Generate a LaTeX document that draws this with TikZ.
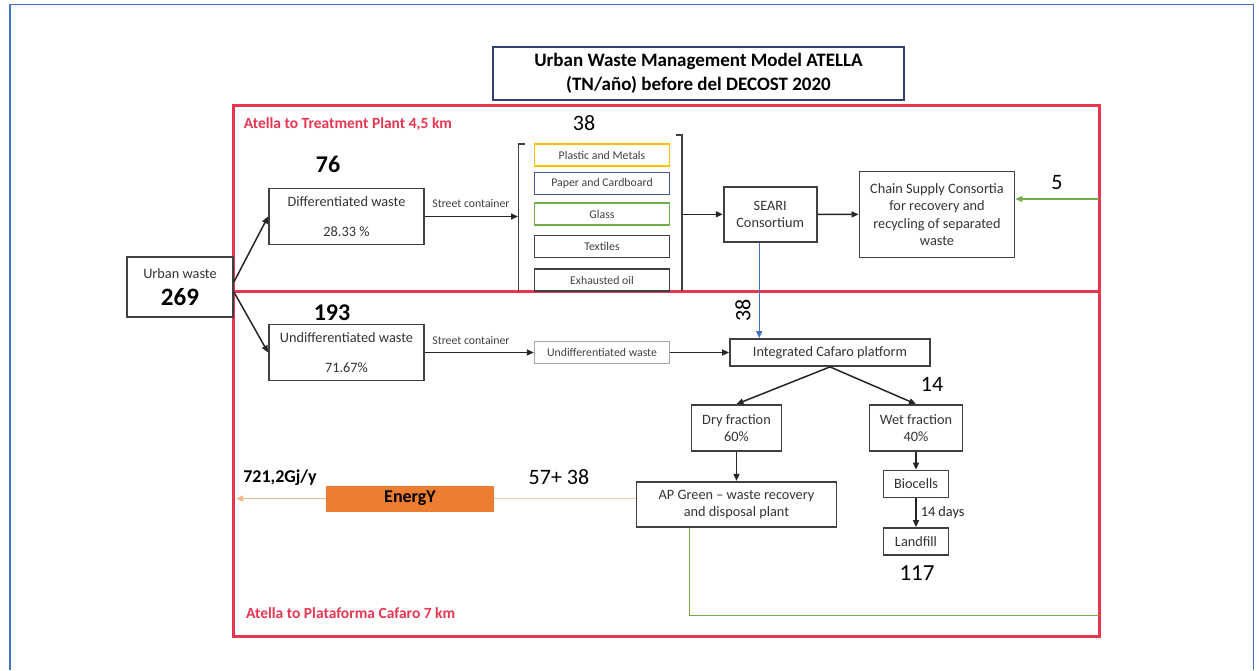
\documentclass[tikz,border=0pt]{standalone}
\usepackage{fontspec}
\setmainfont{Carlito}
\usetikzlibrary{arrows.meta}
\definecolor{framered}{RGB}{232,54,82}
\definecolor{frameblue}{RGB}{68,114,196}
\definecolor{titleblue}{RGB}{47,64,110}
\definecolor{boxgrey}{RGB}{64,64,64}
\definecolor{plastic}{RGB}{255,192,0}
\definecolor{paper}{RGB}{68,84,150}
\definecolor{glass}{RGB}{112,173,71}
\definecolor{lightgrey}{RGB}{166,166,166}
\definecolor{energy}{RGB}{237,125,49}
\newcommand{\fsz}[2]{\fontsize{#1}{#2}\selectfont}
\tikzset{box/.style={draw=boxgrey, line width=1.8pt, text=black!80, align=center, font=\fsz{14.3}{17.5}, inner sep=1pt},
  bin/.style={draw, line width=1.8pt, text=black!75, minimum width=135pt, minimum height=22pt, inner sep=0pt, font=\fsz{11.8}{14}},
  num/.style={font=\fsz{22}{26}, inner sep=0pt},
  bnum/.style={font=\fsz{24}{28}\bfseries, inner sep=0pt},
  redlbl/.style={text=framered, font=\fsz{15.5}{18}\bfseries, anchor=west, inner sep=0pt},
  lbl/.style={font=\fsz{11.8}{14}, text=black!75, inner sep=0pt},
  arr/.style={-{Triangle[length=7pt,width=6pt]}, line width=1.5pt, black!85}}

\begin{document}
\begin{tikzpicture}[x=1pt,y=-1pt]
  \useasboundingbox (0,0) rectangle (1259,670);
  \draw[frameblue, line width=1.2pt] (10,670) -- (10,4.7) -- (1253.5,4.7) -- (1253.5,670);
  \draw[framered, line width=3pt] (233,105) rectangle (1099,291);
  \draw[framered, line width=3pt] (233,291) rectangle (1099,636.5);
  \node[draw=titleblue, line width=1.5pt, minimum width=411pt, minimum height=53pt, align=center, font=\fsz{19}{24}\bfseries] (title) at (698.5,73.3) {Urban Waste Management Model ATELLA\\(TN/año) before del DECOST 2020};
  \node[redlbl] (lbltop) at (243.7,124.3) {Atella to Treatment Plant 4,5 km};
  \node[redlbl] (lblbot) at (246,613.3) {Atella to Plataforma Cafaro 7 km};

  \node[box, minimum width=106pt, minimum height=60pt] (urban) at (180,287) {Urban waste\\[9pt]{\fsz{25}{28}\bfseries\color{black} 269}};
  \node[box, minimum width=155pt, minimum height=56pt] (diff) at (346.5,216.5) {Differentiated waste\\[12pt]28.33 \%};
  \node[box, minimum width=155pt, minimum height=56pt] (undiff) at (346.5,352.5) {Undifferentiated waste\\[12pt]71.67\%};
  \node[bnum] (n76) at (328,164) {76};
  \node[bnum] (n193) at (332,312.7) {193};
  \draw[arr] ([yshift=5pt]urban.east) -- (diff.west);
  \draw[arr] ([yshift=-5pt]urban.east) -- (undiff.west);

  \node[lbl] (sc1) at (471,203) {Street container};
  \node[lbl] (sc2) at (471,340) {Street container};
  \node[bin, draw=plastic] (plastic) at (602,155) {Plastic and Metals};
  \node[bin, draw=paper] (paper) at (602,183.5) {Paper and Cardboard};
  \node[bin, draw=glass] (glass) at (602,214) {Glass};
  \node[bin, draw=boxgrey] (textiles) at (602,246.5) {Textiles};
  \node[bin, draw=boxgrey] (oil) at (602,280) {Exhausted oil};
  \draw[boxgrey, line width=1.8pt] (525,144) -- (518.5,144) -- (518.5,291);
  \draw[boxgrey, line width=1.8pt] (676,135) -- (682,135) -- (682,291);
  \coordinate (brin) at (518,216.5);
  \coordinate (brout) at (682,214.3);
  \draw[arr] (diff.east) -- (brin);
  \node[num] (n38a) at (584,123) {38};

  \node[box, minimum width=93pt, minimum height=55pt] (seari) at (770.2,214.3) {SEARI\\Consortium};
  \node[box, minimum width=155pt, minimum height=86pt] (chain) at (937,214.5) {Chain Supply Consortia\\for recovery and\\recycling of separated\\waste};
  \draw[arr] (brout) -- (seari.west);
  \draw[arr] (seari) -- (chain);
  \node[num] (n5) at (1057,183) {5};
  \coordinate (greenin) at (1099,199);
  \draw[arr, glass, line width=1.3pt] (greenin) -- (chain.east |- greenin);

  \node[bin, draw=lightgrey, line width=1.4pt] (undbin) at (602,352.5) {Undifferentiated waste};
  \node[box, minimum width=200pt, minimum height=27pt] (cafaro) at (830,352.5) {Integrated Cafaro platform};
  \draw[arr] (undiff) -- (undbin);
  \draw[arr] (undbin) -- (cafaro);
  \draw[arr, frameblue, line width=1.3pt] ([xshift=-11pt]seari.south) -- ([xshift=-11pt]seari.south |- cafaro.north);
  \node[num, rotate=90] (n38b) at (743,310) {38};

  \node[box, minimum width=90pt, minimum height=46pt] (dry) at (736.5,428) {Dry fraction\\60\%};
  \node[box, minimum width=93pt, minimum height=46pt] (wet) at (916,428) {Wet fraction\\40\%};
  \draw[arr] (cafaro.south) -- (dry.north);
  \draw[arr] (cafaro.south) -- (wet.north);
  \node[num] (n14) at (932,384) {14};

  \node[box, minimum width=200pt, minimum height=45pt] (apgreen) at (736.5,504.3) {AP Green – waste recovery\\and disposal plant};
  \node[box, minimum width=65pt, minimum height=27pt] (bio) at (916,484) {Biocells};
  \node[box, minimum width=65pt, minimum height=27pt] (landfill) at (916,541.5) {Landfill};
  \draw[arr] (dry) -- (apgreen);
  \draw[arr] (wet) -- (bio);
  \draw[arr] (bio) -- node[right, font=\fsz{14.3}{17}, inner sep=4pt] (days) {14 days} (landfill);
  \node[num, font=\fsz{23}{26}] (n117) at (917,573) {117};
  \coordinate (greenout) at (1099,615.7);
  \draw[glass, line width=1.4pt] ([xshift=-46.8pt]apgreen.south) |- (greenout);

  \node[fill=energy, minimum width=168pt, minimum height=26pt, inner sep=0pt, font=\fsz{18}{21}\bfseries] (energy) at (410,498.5) {EnergY};
  \coordinate (eout) at (236,498.5);
  \draw[energy!40, line width=1.5pt] (apgreen.west |- energy) -- (energy);
  \draw[arr, energy!55, line width=1.5pt] (energy) -- (eout);
  \node[font=\fsz{18}{21}\bfseries, inner sep=0pt] (gj) at (280,478) {721,2Gj/y};
  \node[num] (n57) at (559,477) {57+ 38};
\end{tikzpicture}
\end{document}
